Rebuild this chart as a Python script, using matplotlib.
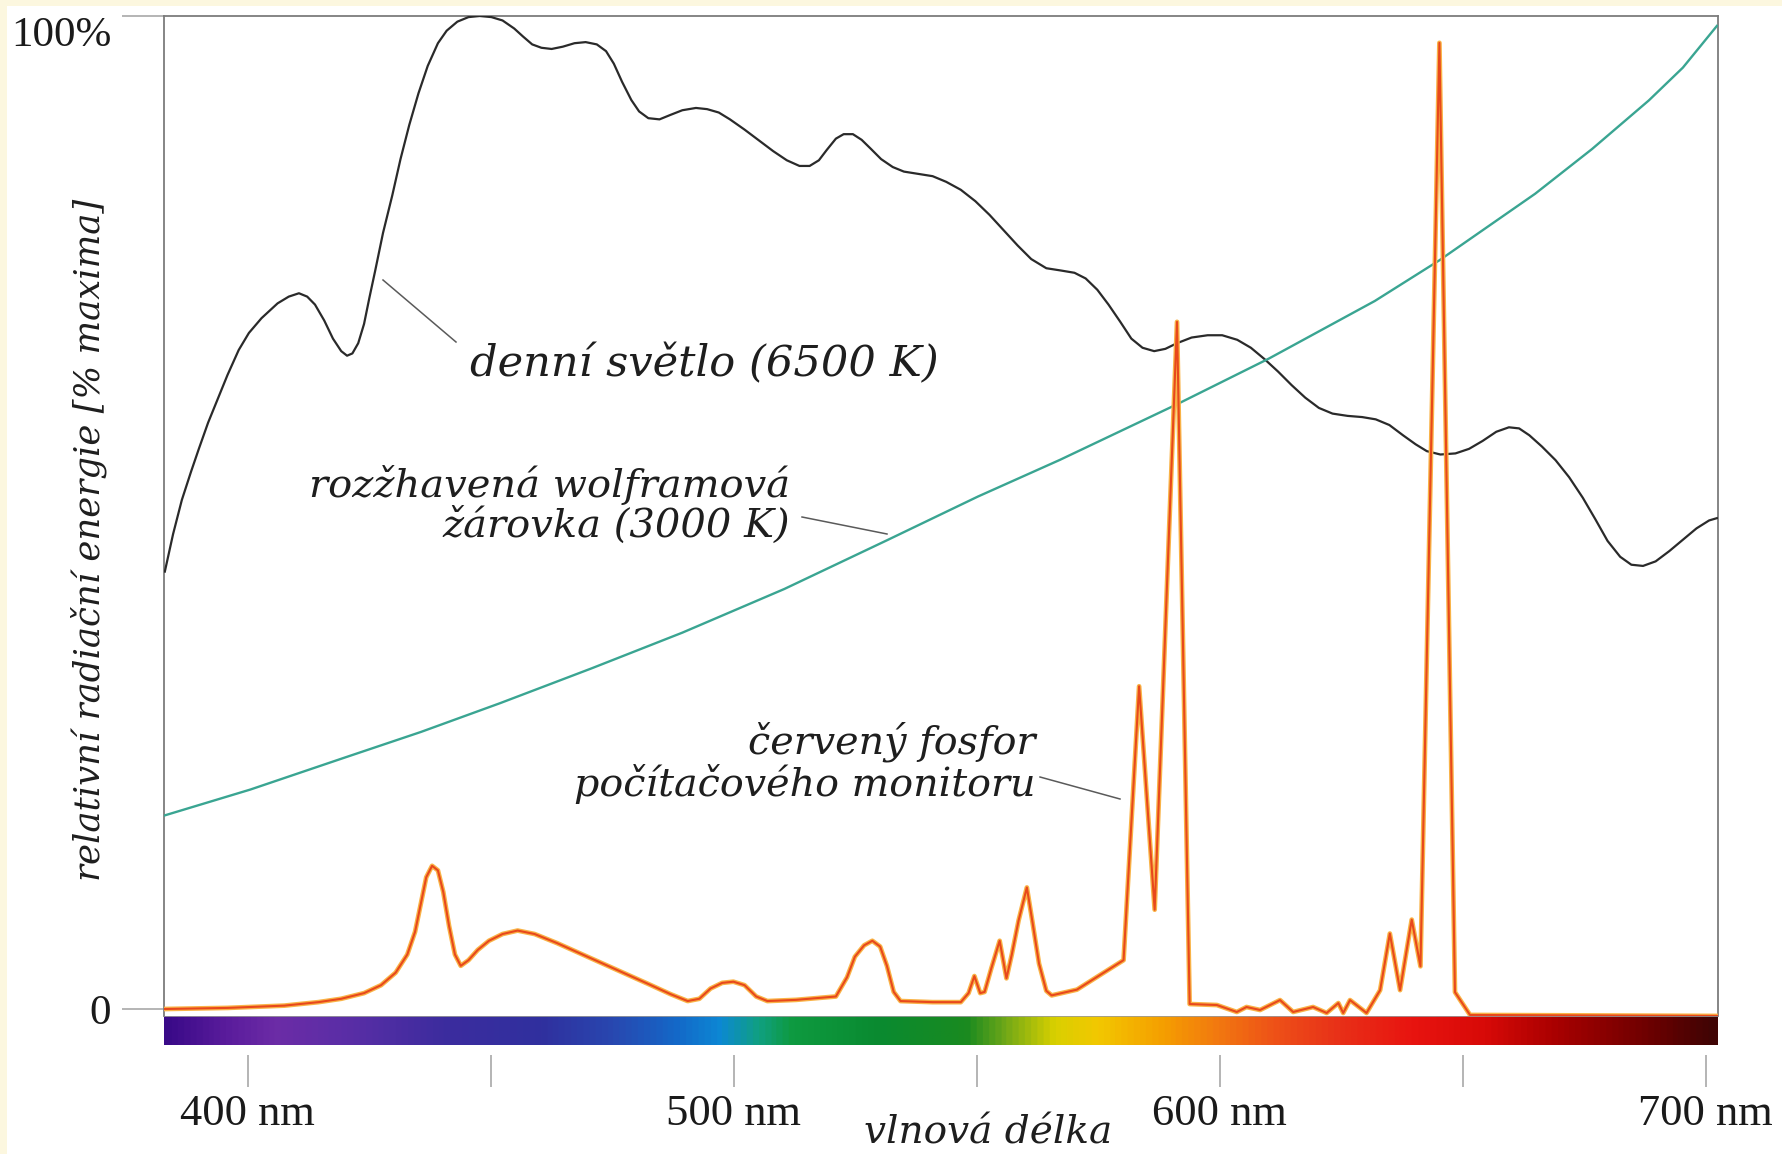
import numpy as np
import matplotlib
matplotlib.use('Agg')
import matplotlib.pyplot as plt
from matplotlib.colors import LinearSegmentedColormap, Normalize
from matplotlib.patches import Rectangle
from matplotlib.lines import Line2D

W, H = 1783, 1154
SERIF = 'Liberation Serif'
ITALIC = 'DejaVu Serif'

# daylight (6500 K), wavelength nm / relative energy %
day_nm = [382.9, 384.6, 386.4, 388.3, 389.9, 391.8, 393.7, 395.8, 398.1, 400.2,
          402.8, 406.1, 408.4, 410.5, 412.2, 413.8, 415.7, 417.5, 419.2, 420.4,
          421.5, 422.7, 423.9, 425.0, 426.2, 427.8, 429.7, 431.4, 433.2, 435.1,
          437.0, 439.1, 440.9, 443.1, 445.4, 447.7, 450.1, 452.4, 454.8, 456.6,
          458.5, 460.4, 462.5, 464.8, 467.2, 469.5, 471.8, 473.7, 475.3, 477.0,
          478.9, 480.5, 482.4, 484.7, 487.0, 489.4, 492.2, 494.5, 496.9, 499.2,
          502.2, 505.3, 508.1, 510.9, 513.5, 515.6, 517.5, 519.1, 521.0, 522.6,
          524.5, 526.3, 528.2, 530.3, 532.7, 535.0, 538.0, 540.9, 543.7, 546.7,
          549.7, 552.6, 555.4, 558.4, 561.2, 564.3, 567.3, 570.1, 572.4, 574.8,
          577.1, 579.5, 581.8, 584.1, 586.5, 588.8, 591.2, 594.2, 597.5, 600.5,
          603.6, 606.4, 609.2, 612.0, 614.8, 617.6, 620.4, 623.2, 626.3, 629.3,
          632.1, 634.9, 637.7, 640.3, 642.6, 645.4, 648.5, 651.3, 654.1, 656.9,
          659.5, 661.6, 663.7, 666.3, 669.1, 671.9, 674.7, 677.3, 679.8, 682.4,
          684.7, 687.1, 689.7, 692.5, 695.3, 698.1, 700.7, 702.3]
day_val = [44.05, 47.83, 51.26, 54.12, 56.41, 59.04, 61.33, 63.85, 66.36, 68.08,
           69.57, 71.06, 71.74, 72.08, 71.74, 70.94, 69.34, 67.51, 66.25, 65.79,
           66.02, 67.05, 68.99, 71.63, 74.37, 78.15, 81.92, 85.59, 89.02, 92.22,
           94.97, 97.26, 98.52, 99.43, 99.89, 100.0, 99.89, 99.55, 98.74, 97.94,
           97.14, 96.80, 96.68, 96.91, 97.26, 97.37, 97.14, 96.46, 95.20, 93.37,
           91.54, 90.39, 89.71, 89.59, 90.05, 90.51, 90.74, 90.62, 90.28, 89.59,
           88.56, 87.42, 86.39, 85.47, 84.90, 84.90, 85.47, 86.50, 87.65, 88.10,
           88.10, 87.53, 86.62, 85.59, 84.79, 84.33, 84.10, 83.87, 83.30, 82.50,
           81.35, 79.98, 78.49, 76.89, 75.52, 74.60, 74.37, 74.14, 73.57, 72.43,
           70.94, 69.22, 67.51, 66.59, 66.25, 66.48, 67.05, 67.62, 67.85, 67.85,
           67.39, 66.59, 65.45, 64.19, 62.82, 61.56, 60.53, 59.96, 59.73, 59.61,
           59.38, 58.81, 57.78, 56.87, 56.18, 55.84, 55.95, 56.41, 57.21, 58.13,
           58.58, 58.47, 57.78, 56.64, 55.27, 53.55, 51.49, 49.31, 47.14, 45.54,
           44.74, 44.62, 45.08, 46.11, 47.26, 48.40, 49.20, 49.43]

# tungsten lamp (3000 K)
tung_nm = [382.9, 400.5, 419.2, 435.6, 451.9, 470.7, 489.4, 510.4, 531.5, 550.2,
           567.1, 591.2, 610.1, 631.9, 645.2, 664.9, 676.6, 688.3, 695.3, 702.3]
tung_val = [19.5, 22.1, 25.2, 27.9, 30.8, 34.3, 37.9, 42.3, 47.2, 51.6,
            55.3, 60.9, 65.5, 71.3, 75.4, 82.1, 86.6, 91.5, 94.8, 99.0]

# red phosphor of a computer monitor
phos_nm = [382.9, 395.8, 407.5, 414.5, 419.2, 423.9, 427.4, 430.4, 432.8, 434.4,
           435.6, 436.7, 437.9, 439.1, 440.2, 441.4, 442.6, 443.8, 445.4, 447.3,
           449.6, 452.4, 455.5, 459.0, 463.6, 468.3, 473.0, 477.7, 482.4, 487.0,
           490.5, 492.9, 495.2, 497.6, 499.9, 502.2, 504.6, 506.9, 512.8, 521.0,
           523.3, 524.9, 526.8, 528.5, 530.1, 531.5, 532.9, 534.3, 540.9, 546.7,
           548.3, 549.5, 550.7, 551.6, 553.0, 554.7, 556.1, 557.2, 558.6, 560.3,
           561.4, 562.8, 564.3, 565.4, 570.6, 580.2, 583.4, 586.6, 591.2, 593.8,
           599.4, 603.5, 605.5, 608.3, 612.4, 615.1, 619.2, 622.0, 624.4, 625.4,
           626.8, 630.2, 633.0, 635.0, 637.1, 639.5, 641.3, 645.2, 648.4, 651.5,
           702.5]
phos_val = [0.0, 0.11, 0.34, 0.69, 1.03, 1.60, 2.40, 3.66, 5.49, 7.78,
            10.64, 13.27, 14.42, 13.96, 11.79, 8.35, 5.49, 4.35, 4.92, 5.95,
            6.87, 7.55, 7.90, 7.55, 6.64, 5.61, 4.58, 3.55, 2.52, 1.49,
            0.80, 1.03, 2.06, 2.63, 2.75, 2.40, 1.26, 0.80, 0.92, 1.26,
            3.20, 5.26, 6.41, 6.87, 6.29, 4.35, 1.72, 0.80, 0.69, 0.69,
            1.60, 3.32, 1.60, 1.72, 4.12, 6.87, 3.09, 5.49, 8.92, 12.24,
            8.92, 4.58, 1.83, 1.37, 1.95, 4.92, 32.5, 10.0, 69.2, 0.5,
            0.4, -0.3, 0.2, -0.1, 0.9, -0.3, 0.2, -0.4, 0.6, -0.4,
            0.9, -0.4, 1.9, 7.6, 1.9, 9.0, 4.3, 97.3, 1.7, -0.6,
            -0.7]

# spectrum strip
strip_nm = [383, 395, 405, 420, 440, 460, 475, 488, 497, 505, 512, 530, 548,
            556, 566, 575, 588, 600, 612, 625, 640, 655, 670, 688, 702]
strip_col = ['#3a0a88', '#5a1c9c', '#6c2ca6', '#5a2ea6', '#3c2c9e', '#30309e',
             '#2848b0', '#1468c8', '#0c88d4', '#10a080', '#0e9a40', '#0a8a30',
             '#1a8a20', '#70a818', '#d8d000', '#f2c800', '#f5a000', '#f27810',
             '#ee5018', '#e83018', '#e81410', '#d80a08', '#a80000', '#700000',
             '#400404']

x_ticks = [400, 450, 500, 550, 600, 650, 700]
x_labels = ['400 nm', '', '500 nm', '', '600 nm', '', '700 nm']
y_ticks = [0, 100]
y_labels = ['0', '100%']

xmin, xmax = 382.73, 702.53

fig = plt.figure(figsize=(W / 100, H / 100), dpi=100)
fig.patch.set_facecolor('#fcf7df')
fig.add_artist(Rectangle((7 / W, 0), 1, 1 - 6 / H, transform=fig.transFigure,
                         facecolor='white', edgecolor='none', zorder=-5))

ax = fig.add_axes([164 / W, 1 - 1016 / H, 1554 / W, 1000 / H])
ax.set_facecolor('white')
ax.set_xlim(xmin, xmax)
ax.set_ylim(-0.705, 100)

ax.plot(day_nm, day_val, color='#2a2a2a', lw=1.6, zorder=3, solid_joinstyle='round')
ax.plot(tung_nm, tung_val, color='#3aa592', lw=1.7, zorder=3, solid_joinstyle='round')
ax.plot(phos_nm, phos_val, color='#f9b347', lw=3.4, zorder=4, solid_joinstyle='round')
ax.plot(phos_nm, phos_val, color='#e8481c', lw=1.5, zorder=5, solid_joinstyle='round')

ax.set_xticks([])
ax.set_yticks(y_ticks)
ax.set_yticklabels(y_labels, family=SERIF, fontsize=31, color='#1a1a1a')
ax.tick_params(axis='y', direction='out', length=30, width=1.1, color='#a0a0a0', pad=8)
ax.get_yticklabels()[1].set_verticalalignment('top')
ax.spines['bottom'].set_visible(False)
for s in ['left', 'top', 'right']:
    ax.spines[s].set_color('#7c7c7c')
    ax.spines[s].set_linewidth(1.3)

# spectrum strip
bar = fig.add_axes([164 / W, 1 - 1045 / H, 1554 / W, 29 / H])
cmap = LinearSegmentedColormap.from_list(
    'spec', [((n - strip_nm[0]) / (strip_nm[-1] - strip_nm[0]), c)
             for n, c in zip(strip_nm, strip_col)])
grad = np.linspace(xmin, xmax, 1000)[None, :]
bar.imshow(grad, aspect='auto', cmap=cmap, norm=Normalize(strip_nm[0], strip_nm[-1]),
           extent=[xmin, xmax, 0, 1])
bar.set_xlim(xmin, xmax)
bar.set_axis_off()
bar.axhline(1, color='#9a9a9a', lw=1.2)

# wavelength ticks below strip
tax = fig.add_axes([164 / W, 1 - 1087 / H, 1554 / W, 32 / H])
tax.patch.set_alpha(0)
tax.set_xlim(xmin, xmax)
tax.set_xticks(x_ticks)
tax.set_xticklabels(x_labels, family=SERIF, fontsize=32, color='#1a1a1a')
tax.tick_params(axis='x', direction='in', length=23, width=1.1, color='#a0a0a0', pad=5)
tax.set_yticks([])
for s in tax.spines.values():
    s.set_visible(False)

# texts
kw = dict(family=ITALIC, style='italic', color='#1e1e1e', fontsize=26)
t_day = fig.text(470 / W, 1 - 364 / H, 'denní světlo (6500 K)', ha='left', va='center', **kw)
t_tung = fig.text(790 / W, 1 - 505 / H, 'rozžhavená wolframová\nžárovka (3000 K)',
                  ha='right', va='center', multialignment='right', linespacing=1.05, **kw)
t_phos = fig.text(1035 / W, 1 - 763 / H, 'červený fosfor\npočítačového monitoru',
                  ha='right', va='center', multialignment='right', linespacing=1.05, **kw)
t_y = fig.text(89 / W, 1 - 540 / H, 'relativní radiační energie [% maxima]',
               rotation=90, ha='center', va='center', **kw)
t_x = fig.text(988 / W, 1 - 1151 / H, 'vlnová délka', ha='center', va='bottom', **kw)

fig.canvas.draw()
r = fig.canvas.get_renderer()
for t, target, use_h in [(t_day, 468, False), (t_tung, 481, False), (t_phos, 461, False),
                         (t_y, 682, True), (t_x, 248, False)]:
    bb = t.get_window_extent(r)
    size = bb.height if use_h else bb.width
    t.set_fontsize(t.get_fontsize() * target / size)

# pointer lines
for (x1, y1), (x2, y2) in [((383, 280), (456, 342)),
                           ((802, 517), (887, 534)),
                           ((1040, 777), (1120, 799))]:
    fig.add_artist(Line2D([x1 / W, x2 / W], [1 - y1 / H, 1 - y2 / H],
                          transform=fig.transFigure, color='#5a5a5a', lw=1.1))

fig.savefig('out.png', dpi=100, facecolor=fig.get_facecolor())
